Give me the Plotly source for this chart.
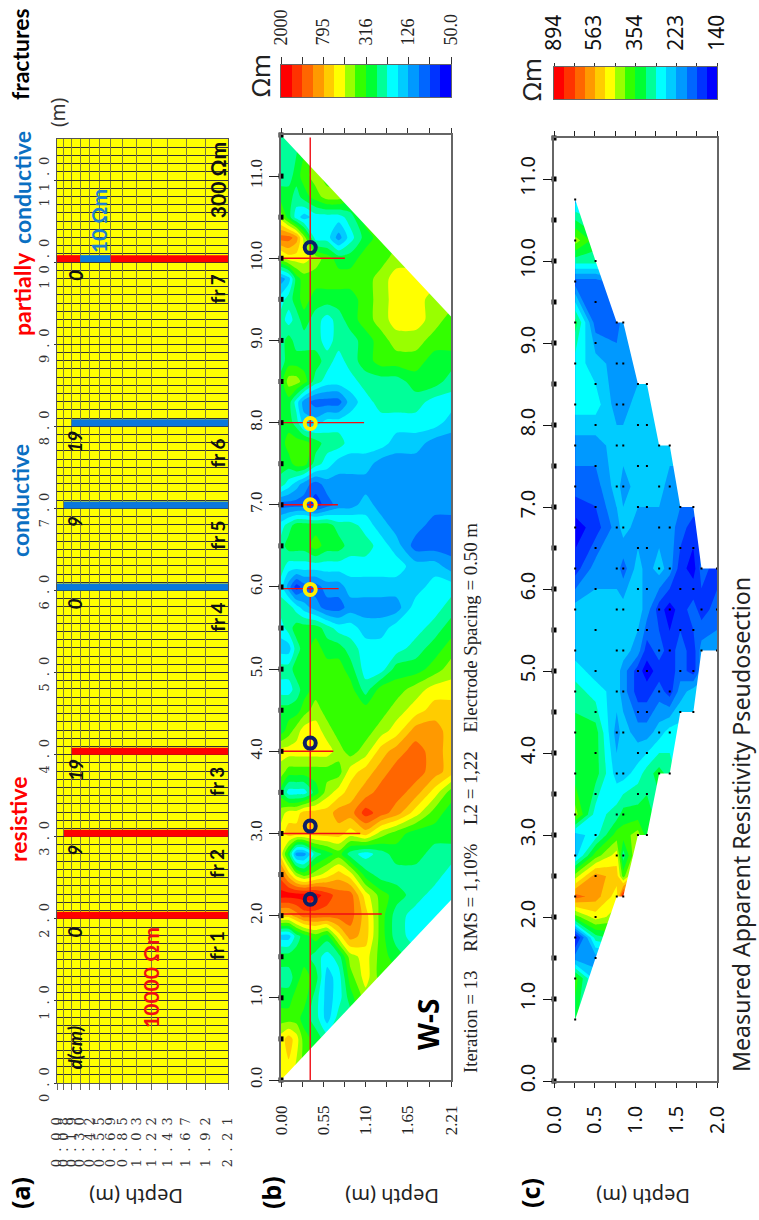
import math
import plotly.graph_objects as go

W, H = 759, 1220
SERIF = "Liberation Serif"
SANS = "Lato"
HUM = "Noto Sans"

# ---------- colour classes (low -> high) ----------
band_colors = ["#0000ff", "#0033ff", "#0066ff", "#0099ff", "#00ccff", "#00ffff", "#00ff99", "#00ff33",
               "#33ff00", "#99ff00", "#ffff00", "#ffcc00", "#ff9900", "#ff6600", "#ff3300", "#ff0000"]
edges_b = [50, 63, 79, 100, 126, 158, 200, 251, 316, 398, 500, 631, 795, 1000, 1259, 1585, 2000]
edges_c = [140, 157, 176, 198, 222, 250, 280, 315, 354, 397, 446, 500, 563, 631, 708, 795, 894]
mid_b = [56, 70, 89, 112, 141, 178, 224, 282, 355, 447, 562, 708, 891, 1122, 1413, 1778]
mid_c = [148, 166, 187, 210, 236, 265, 297, 333, 375, 421, 472, 530, 596, 668, 750, 843]
cbar_b_labels = ["50.0", "126", "316", "795", "2000"]
cbar_c_labels = ["140", "223", "354", "563", "894"]

# ---------- panel (a): synthetic model ----------
a_depth_grid = [0.00, 0.09, 0.19, 0.30, 0.42, 0.55, 0.69, 0.85, 1.03, 1.22, 1.43, 1.67, 1.92, 2.21]
a_depth_labels = ["0.00", "0.08", "0.19", "0.30", "0.42", "0.55", "0.69", "0.85", "1.03", "1.22", "1.43", "1.67", "1.92", "2.21"]
dist_ticks = [0, 1, 2, 3, 4, 5, 6, 7, 8, 9, 10, 11]
dist_labels = ["0.0", "1.0", "2.0", "3.0", "4.0", "5.0", "6.0", "7.0", "8.0", "9.0", "10.0", "11.0"]
res_dist = [2, 3, 4]
res_top = [0.0, 0.09, 0.19]
cond_dist = [6, 7, 8]
cond_top = [0.0, 0.09, 0.19]
partial_dist = 10
partial_red_top = [0.0, 0.69]
partial_red_bottom = [0.30, 2.21]
partial_blue_top = 0.30
partial_blue_bottom = 0.69
frac_thick = 0.085
fr_names = ["fr 1", "fr 2", "fr 3", "fr 4", "fr 5", "fr 6", "fr 7"]
fr_dist = [2, 3, 4, 6, 7, 8, 10]
fr_cm = ["0", "9", "19", "0", "9", "19", "0"]

# ---------- panel (b): inverted section, colour class read per cell ----------
b_depth = [0.0, 0.1, 0.2, 0.3, 0.45, 0.6, 0.75, 0.9, 1.1, 1.3, 1.5, 1.75, 2.0, 2.21]
b_dist = [0, 0.5, 0.75, 1, 1.25, 1.5, 1.75, 2, 2.25, 2.5, 2.75, 3, 3.25, 3.5, 3.75, 4, 4.25, 4.5, 4.75, 5,
          5.25, 5.5, 5.75, 6, 6.25, 6.5, 6.75, 7, 7.25, 7.5, 7.75, 8, 8.25, 8.5, 8.75, 9, 9.25, 9.5, 9.75,
          10, 10.25, 10.5, 10.75, 11, 11.5]
b_class = [
    [10,10,9,8,7,7,7,7,7,7,7,7,7,7],
    [10,11,10,8,7,6,6,6,6,6,6,6,6,6],
    [8,8,8,7,6,4,6,6,9,9,9,9,9,9],
    [7,7,8,8,6,4,5,7,9,10,10,10,10,10],
    [6,6,7,8,7,4,5,8,10,8,8,8,8,8],
    [7,7,7,7,6,5,6,9,10,8,7,6,6,6],
    [4,4,6,7,8,7,10,12,11,8,6,5,5,5],
    [11,11,12,13,13,13,13,13,11,8,6,5,5,5],
    [15,15,15,15,15,14,13,13,10,8,7,6,5,5],
    [13,11,9,8,9,10,11,10,7,6,6,6,6,5],
    [10,7,3,3,6,7,8,6,5,6,7,7,6,6],
    [10,11,11,11,11,11,11,10,11,9,8,7,7,7],
    [9,10,10,11,11,11,12,12,14,13,12,10,8,7],
    [7,5,5,5,7,9,10,11,12,13,13,12,10,8],
    [9,8,8,8,8,8,8,10,11,12,13,13,12,11],
    [10,10,10,10,10,10,9,8,9,11,12,13,12,11],
    [7,8,9,10,10,9,8,8,8,9,10,12,12,11],
    [7,7,7,8,9,8,8,8,8,8,9,10,11,11],
    [5,5,6,7,8,8,8,8,6,8,8,9,10,10],
    [6,6,7,7,8,8,8,7,5,5,7,7,8,9],
    [4,4,6,7,8,7,7,6,5,5,5,6,7,8],
    [5,6,7,7,7,6,5,5,4,4,5,5,6,7],
    [6,6,5,4,3,2,2,3,3,3,3,5,5,6],
    [5,3,1,2,2,3,3,4,4,4,4,4,5,5],
    [6,5,5,5,5,5,5,5,5,5,5,4,4,3],
    [6,7,7,7,8,7,7,6,6,5,4,2,2,2],
    [5,6,7,7,7,7,6,6,5,4,3,3,2,2],
    [2,2,2,2,1,2,3,3,4,3,3,3,3,3],
    [6,5,4,3,2,3,3,3,3,3,3,3,3,3],
    [7,7,8,8,6,5,4,4,4,3,3,3,3,3],
    [7,8,8,8,7,6,6,5,5,5,4,4,3,3],
    [7,7,6,4,4,5,5,5,5,5,5,5,5,4],
    [7,7,5,3,2,2,2,4,5,6,6,6,5,5],
    [7,9,9,8,6,5,5,5,6,6,6,7,7,6],
    [6,7,7,7,7,6,5,6,7,8,8,8,7,7],
    [6,7,6,6,6,5,6,6,7,8,9,9,8,8],
    [6,5,6,7,6,5,6,7,8,9,10,10,9,8],
    [5,6,7,8,7,7,7,7,8,9,10,10,9,9],
    [3,4,7,8,8,8,8,8,8,9,10,10,10,10],
    [9,10,10,10,9,8,7,7,8,8,9,9,9,9],
    [13,13,12,9,5,5,3,5,7,8,8,8,8,8],
    [9,7,5,4,5,5,5,6,8,8,8,8,8,8],
    [7,7,6,7,8,9,9,8,8,8,8,8,8,8],
    [6,6,7,8,9,8,8,8,8,8,8,8,8,8],
    [6,6,6,7,8,8,8,8,8,8,8,8,8,8],
]
b_depth_ticks = [0.0, 0.276, 0.55, 0.826, 1.10, 1.376, 1.65, 1.93, 2.21]
b_depth_labels = ["0.00", "", "0.55", "", "1.10", "", "1.65", "", "2.21"]
electrodes = [0, 0.5, 1, 1.5, 2, 2.5, 3, 3.5, 4, 4.5, 5, 5.5, 6, 6.5, 7, 7.5, 8, 8.5, 9, 9.5, 10, 10.5, 11, 11.5]
b_left_wedge_depth = [0, 2.21, 2.21]
b_left_wedge_dist = [0, 0, 2.19]
b_right_wedge_depth = [0, 2.21, 2.21]
b_right_wedge_dist = [11.5, 11.5, 9.29]
line_end_depth = [1.31, 1.03, 0.68, 0.75, 0.74, 1.08, 0.83]
line_dist = [2.02, 3.0, 4.0, 5.98, 7.0, 8.0, 10.0]
line_start_depth = -0.69
ref_depth = 0.38
ref_span = [-0.08, 11.47]
dark_dist = [2.2, 3.09, 4.1, 10.13]
light_dist = [5.97, 7.0, 7.99]

# ---------- panel (c): pseudosection ----------
c_depth = [0.26, 0.51, 0.77, 0.85, 1.03, 1.14, 1.29, 1.42, 1.55, 1.71, 1.81, 2.0]
c_dist = [0.75, 1.25, 1.5, 1.75, 2, 2.25, 2.5, 2.75, 3, 3.25, 3.75, 4.25, 4.75, 5, 5.25, 5.75, 6.25, 6.75,
          7.25, 7.75, 8.25, 8.75, 9.25, 9.75, 10, 10.25, 10.75]
c_class = [
    [7,3,3,3,3,3,3,3,3,3,3,3],
    [8,4,4,4,4,4,4,4,4,4,4,4],
    [3,3,3,3,3,3,3,3,3,3,3,3],
    [0,6,7,7,7,7,7,7,7,7,7,7],
    [8,10,9,9,9,9,9,9,9,9,9,9],
    [13,12,10,15,12,12,12,12,12,12,12,12],
    [9,12,11,8,12,12,12,12,12,12,12,12],
    [4,8,10,6,10,10,10,10,10,10,10,10],
    [4,5,8,8,9,7,7,7,7,7,7,7],
    [9,5,6,7,7,7,6,6,6,6,6,6],
    [7,7,4,4,5,6,7,6,5,5,5,5],
    [7,7,3,4,3,3,4,5,5,5,5,5],
    [6,5,4,3,1,1,2,1,3,4,4,4],
    [5,4,4,3,1,0,1,1,2,1,3,3],
    [4,4,4,4,3,1,2,1,2,1,3,3],
    [4,4,4,4,4,3,1,0,1,2,1,2],
    [1,3,3,2,4,3,4,3,1,0,2,1],
    [0,1,3,4,3,3,3,3,2,1,1,1],
    [2,2,4,3,4,4,4,3,3,3,3,3],
    [3,3,4,4,4,4,4,4,4,4,4,4],
    [5,5,3,3,4,4,4,4,4,4,4,4],
    [5,4,3,3,3,3,3,3,3,3,3,3],
    [7,2,2,3,3,3,3,3,3,3,3,3],
    [2,2,3,3,3,3,3,3,3,3,3,3],
    [6,6,6,6,6,6,6,6,6,6,6,6],
    [9,7,7,7,7,7,7,7,7,7,7,7],
    [4,4,4,4,4,4,4,4,4,4,4,4],
]
c_first_dist = [0.75, 1.5, 2.25, 2.25, 3.0, 3.0, 3.75, 3.75, 4.5, 4.5, 5.25, 5.25]
c_last_dist = [10.75, 10.0, 9.25, 9.25, 8.5, 8.5, 7.75, 7.75, 7.0, 7.0, 6.25, 6.25]
c_depth_ticks = [0.0, 0.25, 0.5, 0.75, 1.0, 1.25, 1.5, 1.75, 2.0]
c_depth_labels = ["0.0", "", "0.5", "", "1.0", "", "1.5", "", "2.0"]


def fx(px):
    return px / W


def fy(py):
    return 1 - py / H


n = len(band_colors)
colorscale = []
for i, c in enumerate(band_colors):
    colorscale += [[i / n, c], [(i + 1) / n, c]]


def to_log(table, mids):
    return [[math.log10(mids[v]) for v in row] for row in table]


def contour(x, y, table, mids, edges, xa, ya, smooth):
    lo, hi = math.log10(edges[0]), math.log10(edges[-1])
    return go.Contour(x=x, y=y, z=to_log(table, mids), xaxis=xa, yaxis=ya, showscale=False,
                      colorscale=colorscale, zmin=lo, zmax=hi, zauto=False, autocontour=False,
                      contours=dict(start=lo, end=hi, size=(hi - lo) / n, coloring="fill", showlines=False),
                      line=dict(width=0, smoothing=smooth), hoverinfo="skip")


def cbar(edges, xa, ya):
    logs = [math.log10(e) for e in edges]
    mids = [(logs[i] + logs[i + 1]) / 2 for i in range(n)]
    return go.Heatmap(x=logs, y=[0, 1], z=[mids], xaxis=xa, yaxis=ya, showscale=False, colorscale=colorscale,
                      zmin=logs[0], zmax=logs[-1], hoverinfo="skip")


def wedge(xs, ys, xa, ya):
    return go.Scatter(x=xs, y=ys, xaxis=xa, yaxis=ya, fill="toself", fillcolor="white", mode="lines",
                      line=dict(width=0, color="white"), hoverinfo="skip", showlegend=False)


fig = go.Figure()

# panel a
red, blue = "#ff0000", "#0a78dc"
for dists, tops, col in ((res_dist, res_top, red), (cond_dist, cond_top, blue)):
    fig.add_trace(go.Bar(y=[d + frac_thick / 2 for d in dists], base=tops,
                         x=[a_depth_grid[-1] - t for t in tops], orientation="h", width=frac_thick,
                         marker=dict(color=col, line=dict(width=0)), xaxis="x", yaxis="y", hoverinfo="skip"))
fig.add_trace(go.Bar(y=[partial_dist + frac_thick / 2] * 2, base=partial_red_top,
                     x=[b - t for t, b in zip(partial_red_top, partial_red_bottom)], orientation="h",
                     width=frac_thick, marker=dict(color=red, line=dict(width=0)), xaxis="x", yaxis="y", hoverinfo="skip"))
fig.add_trace(go.Bar(y=[partial_dist + frac_thick / 2], base=[partial_blue_top],
                     x=[partial_blue_bottom - partial_blue_top], orientation="h", width=frac_thick,
                     marker=dict(color=blue, line=dict(width=0)), xaxis="x", yaxis="y", hoverinfo="skip"))

# panel b
fig.add_trace(contour(b_depth, b_dist, b_class, mid_b, edges_b, "x2", "y2", 0.7))
fig.add_trace(wedge(b_left_wedge_depth, b_left_wedge_dist, "x2", "y2"))
fig.add_trace(wedge(b_right_wedge_depth, b_right_wedge_dist, "x2", "y2"))
for end, dist in zip(line_end_depth, line_dist):
    fig.add_trace(go.Scatter(x=[line_start_depth, end], y=[dist, dist], xaxis="x2", yaxis="y2", mode="lines",
                             line=dict(color="#f00c14", width=1.4), cliponaxis=False, hoverinfo="skip"))
fig.add_trace(go.Scatter(x=[ref_depth, ref_depth], y=ref_span, xaxis="x2", yaxis="y2", mode="lines",
                         line=dict(color="#f00c14", width=1.4), cliponaxis=False, hoverinfo="skip"))
fig.add_trace(go.Scatter(x=[ref_depth] * len(dark_dist), y=dark_dist, xaxis="x2", yaxis="y2", mode="markers",
                         marker=dict(symbol="circle-open", size=11, color="#0b1f66", line=dict(color="#0b1f66", width=4)),
                         hoverinfo="skip"))
fig.add_trace(go.Scatter(x=[ref_depth] * len(light_dist), y=light_dist, xaxis="x2", yaxis="y2", mode="markers",
                         marker=dict(symbol="circle-open", size=11, color="#fff000", line=dict(color="#fff000", width=4)),
                         hoverinfo="skip"))
fig.add_trace(go.Scatter(x=[0] * len(electrodes), y=electrodes, xaxis="x2", yaxis="y2", mode="markers",
                         marker=dict(symbol="square", size=5, color="black"), cliponaxis=False, hoverinfo="skip"))

# panel c
fig.add_trace(contour(c_depth, c_dist, c_class, mid_c, edges_c, "x3", "y3", 0))
fig.add_trace(wedge(c_depth + [2.1, 2.1, c_depth[0]], c_first_dist + [c_first_dist[-1], c_dist[0] - 0.1, c_dist[0] - 0.1], "x3", "y3"))
fig.add_trace(wedge(c_depth + [2.1, 2.1, c_depth[0]], c_last_dist + [c_last_dist[-1], c_dist[-1] + 0.1, c_dist[-1] + 0.1], "x3", "y3"))
pts_x, pts_y = [], []
for dep, first, last in zip(c_depth, c_first_dist, c_last_dist):
    cur = first
    while cur <= last + 1e-6:
        pts_x.append(dep)
        pts_y.append(cur)
        cur += 0.5
fig.add_trace(go.Scatter(x=pts_x, y=pts_y, xaxis="x3", yaxis="y3", mode="markers",
                         marker=dict(symbol="square", size=2, color="black"), cliponaxis=False, hoverinfo="skip"))
fig.add_trace(go.Scatter(x=[0] * len(electrodes), y=electrodes, xaxis="x3", yaxis="y3", mode="markers",
                         marker=dict(symbol="square", size=5, color="black"), cliponaxis=False, hoverinfo="skip"))

# colour bars
fig.add_trace(cbar(edges_b, "x4", "y4"))
fig.add_trace(cbar(edges_c, "x5", "y5"))

GRAY = "#666666"
layout = dict(width=W, height=H, margin=dict(l=0, r=0, t=0, b=0), autosize=False, showlegend=False,
              template="none", paper_bgcolor="white", plot_bgcolor="rgba(0,0,0,0)", barmode="overlay")


def rect_axes(idx, x0, x1, y0, y1):
    suffix = "" if idx == 1 else str(idx)
    return ("xaxis" + suffix, "yaxis" + suffix,
            dict(domain=[fx(x0), fx(x1)], anchor="y" + suffix, automargin=False),
            dict(domain=[fy(y1), fy(y0)], anchor="x" + suffix, automargin=False))


# a
xk, yk, xa, ya = rect_axes(1, 57, 228, 139, 1083)
xa.update(range=[0, 2.21], tickmode="array", tickvals=a_depth_grid, ticktext=a_depth_labels, tickangle=-90,
          showgrid=True, gridcolor="#7c7c3c", gridwidth=1, zeroline=False, ticks="outside", ticklen=6, tickcolor="#666",
          ticklabelstandoff=15, tickfont=dict(family="DejaVu Serif", size=13, color="#333"),
          showline=True, linecolor="#555", mirror=True)
ya.update(range=[0, 11.5], tickmode="array", tickvals=dist_ticks, ticktext=dist_labels, tickangle=-90,
          showgrid=True, gridcolor="#333", gridwidth=1, zeroline=False, ticks="outside", ticklen=2, tickcolor="#333",
          tickfont=dict(family="DejaVu Serif", size=13, color="#333"), showline=True, linecolor="#555", mirror=True,
          minor=dict(tickmode="linear", tick0=0, dtick=0.1, showgrid=True, gridcolor="#333", gridwidth=1, ticks=""))
layout[xk], layout[yk] = xa, ya

# b
xk, yk, xa, ya = rect_axes(2, 281, 451, 135, 1080)
xa.update(range=[0, 2.21], tickmode="array", tickvals=b_depth_ticks, ticktext=b_depth_labels, tickangle=-90,
          showgrid=False, zeroline=False, ticks="outside", ticklen=5, tickcolor="#333", mirror="ticks",
          ticklabelstandoff=12, tickfont=dict(family=SERIF, size=17, color="#222"), showline=True, linecolor=GRAY, linewidth=1.5)
ya.update(range=[0, 11.5], tickmode="array", tickvals=dist_ticks, ticktext=dist_labels, tickangle=-90,
          showgrid=False, zeroline=False, ticks="outside", ticklen=10, tickcolor="#222", mirror=True,
          tickfont=dict(family=SERIF, size=17, color="#222"), showline=True, linecolor=GRAY, linewidth=1.5)
layout[xk], layout[yk] = xa, ya

# c
xk, yk, xa, ya = rect_axes(3, 554, 717, 138, 1081)
xa.update(range=[0, 2.0], tickmode="array", tickvals=c_depth_ticks, ticktext=c_depth_labels, tickangle=-90,
          showgrid=False, zeroline=False, ticks="outside", ticklen=5, tickcolor="#222", mirror="ticks",
          ticklabelstandoff=10, tickfont=dict(family=HUM, size=20, color="#111"), showline=True, linecolor=GRAY, linewidth=1.5)
ya.update(range=[0, 11.5], tickmode="array", tickvals=dist_ticks, ticktext=dist_labels, tickangle=-90,
          showgrid=False, zeroline=False, ticks="outside", ticklen=9, tickcolor="#111", mirror=True,
          tickfont=dict(family=HUM, size=20, color="#111"), showline=True, linecolor=GRAY, linewidth=1.5)
layout[xk], layout[yk] = xa, ya

# colour bars
for idx, box, edges, labels, font, tlen, stand in (
    (4, (281, 451, 65, 97), edges_b, cbar_b_labels, dict(family=SERIF, size=18, color="#222"), 7, 8),
    (5, (554, 717, 67, 99), edges_c, cbar_c_labels, dict(family=HUM, size=21, color="#111"), 3, 8),
):
    xk, yk, xa, ya = rect_axes(idx, *box)
    logs = [math.log10(e) for e in edges]
    texts = {edges[i]: labels[i // 4] if i % 4 == 0 else "" for i in range(0, 17, 2)}
    xa.update(range=[logs[-1], logs[0]], side="top", tickmode="array", tickvals=[math.log10(k) for k in texts],
              ticktext=list(texts.values()), tickangle=-90, ticks="outside", ticklen=tlen, tickcolor="#333",
              tickfont=font, showgrid=False, zeroline=False, showline=True, linecolor=GRAY, mirror=True,
              ticklabelstandoff=stand)
    ya.update(range=[0, 1], showticklabels=False, ticks="", showgrid=False, zeroline=False,
              showline=True, linecolor=GRAY, mirror=True)
    layout[xk], layout[yk] = xa, ya

fig.update_layout(**layout)

# yellow half-space of panel a, below the grid
fig.add_shape(type="rect", xref="x", yref="y", x0=0, x1=2.21, y0=0, y1=11.5, layer="below",
              fillcolor="#ffff00", line=dict(width=0))


def note(text, px, py, size, color="black", family=SANS, angle=-90):
    fig.add_annotation(text=text, x=fx(px), y=fy(py), xref="paper", yref="paper", showarrow=False, textangle=angle,
                       xanchor="center", yanchor="middle", font=dict(family=family, size=size, color=color))


def data_note(text, depth, dist, size, color="black", family=SANS):
    fig.add_annotation(text=text, x=depth, y=dist, xref="x", yref="y", showarrow=False, textangle=-90,
                       xanchor="center", yanchor="middle", font=dict(family=family, size=size, color=color))


TITLE_BLUE = "#0a6fc2"
note("<b>resistive</b>", 18, 820, 23, "#ff0000")
note("<b>conductive</b>", 20, 501, 23, TITLE_BLUE)
note("<b>partially</b>", 22, 294, 23, "#ff0000")
note("<b>conductive</b>", 22, 188, 23, TITLE_BLUE)
note("<b>fractures</b>", 20, 54, 23, "black")
note("(m)", 58, 112, 19, "#333", HUM)
for txt, px in (("(a)", 20), ("(b)", 271), ("(c)", 530)):
    note("<b>" + txt + "</b>", px, 1193, 25, "black", HUM)
for px in (136, 392, 643):
    note("Depth (m)", px, 1197, 20, "#222", HUM, 180)
note("Ωm", 260, 76, 26, "#222", HUM)
note("Ωm", 531, 80, 26, "#222", HUM)
note("<b>W-S</b>", 428, 1025, 28, "black", HUM)
note("Iteration = 13&nbsp;&nbsp;&nbsp;&nbsp;RMS = 1,10%&nbsp;&nbsp;&nbsp;&nbsp;L2 = 1,22&nbsp;&nbsp;&nbsp;&nbsp;Electrode Spacing = 0.50 m",
     470, 798, 18.8, "#222", SERIF)
note("Measured Apparent Resistivity Pseudosection", 741, 825, 23.2, "#222", HUM)

for name, dist, cm in zip(fr_names, fr_dist, fr_cm):
    data_note("<b>" + name + "</b>", 2.07, dist - 0.33, 19, "#111", SANS)
    data_note("<b><i>" + cm + "</i></b>", 0.23, dist - 0.16 if cm != "19" else dist - 0.19, 19, "#111", SANS)
data_note("<b><i>d(cm)</i></b>", 0.23, 0.43, 19, "#111", SANS)
data_note("<b>10000 Ωm</b>", 1.2, 1.29, 21, "#f01010", SANS)
data_note("<b>300 Ωm</b>", 2.07, 11.0, 21, "#111", SANS)
data_note("<b>10 Ωm</b>", 0.53, 10.5, 21, "#1d7fd0", SANS)

stretch = """
document.body.style.margin='0';
document.querySelectorAll('g.xtick text, g.ytick text').forEach(function(t){
  var sub=t.closest('.subplot'); if(sub && sub.classList.contains('xy')){t.style.letterSpacing='7px';}
});
"""
fig.write_html("out.html", post_script=stretch, config={"displayModeBar": False})
